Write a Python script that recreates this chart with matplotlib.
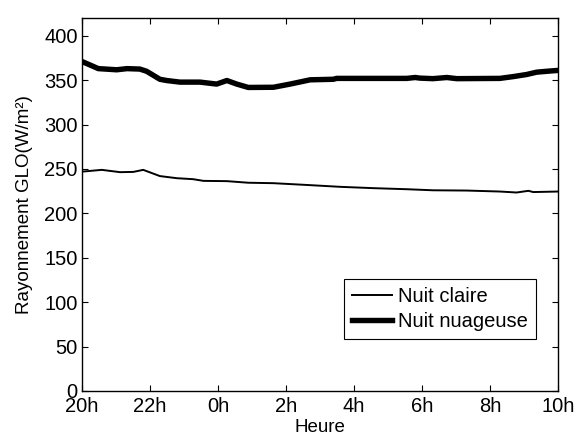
import matplotlib
matplotlib.use("Agg")
import matplotlib.pyplot as plt

plt.rcParams['font.family'] = ['Liberation Sans', 'DejaVu Sans']

hours_nuageuse = [0.0, 0.48, 1.02, 1.32, 1.7, 1.9, 2.29, 2.49, 2.88, 3.47, 3.96, 4.26, 4.55, 4.89,
                  5.63, 6.12, 6.71, 7.39, 7.49, 8.5, 9.55, 9.8, 9.94, 10.32, 10.73, 11.02, 12.29,
                  12.68, 13.08, 13.37, 13.67, 14.0]
nuit_nuageuse = [371, 363, 361.7, 363, 362.5, 360, 351, 349.6, 347.8, 347.8, 345.6, 349.6, 345.6, 341.8,
                 342, 345.6, 350.4, 351, 352, 352, 352, 353, 352.3, 351.7, 353, 351.7, 352,
                 354, 356.4, 359, 360, 361]

hours_claire = [0.0, 0.58, 1.12, 1.51, 1.8, 2.29, 2.79, 3.27, 3.57, 4.26, 4.89, 5.63, 6.61, 7.59,
                8.57, 9.55, 10.32, 11.31, 12.29, 12.78, 13.13, 13.27, 14.0]
nuit_claire = [247, 249, 246.4, 246.7, 249, 242, 239.6, 238.5, 236.6, 236.3, 234.5, 234, 232, 229.9,
               228.4, 227.2, 226, 225.7, 224.6, 223.5, 225.4, 224, 224.6]

tick_pos = [0, 2, 4, 6, 8, 10, 12, 14]
tick_labels = ['20h', '22h', '0h', '2h', '4h', '6h', '8h', '10h']
y_ticks = [0, 50, 100, 150, 200, 250, 300, 350, 400]

fig = plt.figure(figsize=(5.76, 4.37), dpi=100)
ax = fig.add_axes([0.1424, 0.1053, 0.8264, 0.8535])

ax.plot(hours_claire, nuit_claire, color='black', lw=1.4, label='Nuit claire')
ax.plot(hours_nuageuse, nuit_nuageuse, color='black', lw=3.9, label='Nuit nuageuse')

ax.set_xlim(0, 14)
ax.set_ylim(0, 420)
ax.set_xticks(tick_pos)
ax.set_xticklabels(tick_labels)
ax.set_yticks(y_ticks)
ax.tick_params(direction='in', length=4.5, width=0.8, top=True, right=True,
               labelsize=14.5)
ax.tick_params(axis='x', pad=4)
ax.tick_params(axis='y', pad=3)
for s in ax.spines.values():
    s.set_linewidth(1.0)

ax.set_xlabel('Heure', fontsize=13.5, labelpad=2.5)
ax.set_ylabel('Rayonnement GLO(W/m²)', fontsize=13.5, labelpad=8)

leg = ax.legend(loc='lower right', bbox_to_anchor=(0.954, 0.139), fontsize=14.5,
                frameon=True, fancybox=False, edgecolor='black', framealpha=1,
                borderpad=0.4, handlelength=2.0, handletextpad=0.3, labelspacing=0.3,
                borderaxespad=0)
leg.get_frame().set_linewidth(0.8)

fig.savefig('out.png', dpi=100)
